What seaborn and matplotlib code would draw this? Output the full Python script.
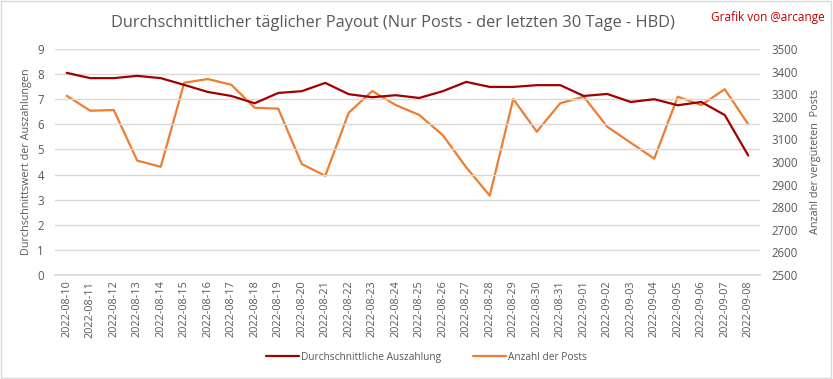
import matplotlib
matplotlib.use("Agg")
import matplotlib.pyplot as plt
import seaborn as sns
import pandas as pd
from matplotlib.patches import Rectangle

# data
dates = ["2022-08-10", "2022-08-11", "2022-08-12", "2022-08-13", "2022-08-14",
         "2022-08-15", "2022-08-16", "2022-08-17", "2022-08-18", "2022-08-19",
         "2022-08-20", "2022-08-21", "2022-08-22", "2022-08-23", "2022-08-24",
         "2022-08-25", "2022-08-26", "2022-08-27", "2022-08-28", "2022-08-29",
         "2022-08-30", "2022-08-31", "2022-09-01", "2022-09-02", "2022-09-03",
         "2022-09-04", "2022-09-05", "2022-09-06", "2022-09-07", "2022-09-08"]
avg_payout = [8.05, 7.84, 7.84, 7.93, 7.84, 7.57, 7.29, 7.13, 6.84, 7.25,
              7.32, 7.65, 7.20, 7.08, 7.16, 7.05, 7.32, 7.69, 7.49, 7.49,
              7.56, 7.56, 7.13, 7.21, 6.89, 7.00, 6.76, 6.89, 6.37, 4.76]
post_count = [3293, 3227, 3230, 3006, 2979, 3351, 3367, 3342, 3240, 3236,
              2991, 2939, 3218, 3314, 3252, 3208, 3119, 2976, 2851, 3279,
              3134, 3260, 3289, 3156, 3085, 3015, 3289, 3252, 3322, 3167]

df = pd.DataFrame({"idx": range(len(dates)), "date": dates,
                   "payout": avg_payout, "posts": post_count})

sns.set_theme(style="white")
plt.rcParams['font.family'] = ['Open Sans', 'DejaVu Sans']
grey = "#595959"

fig = plt.figure(figsize=(8.33, 3.79), dpi=100)
ax = fig.add_axes([55 / 833, 1 - 275 / 379, 705 / 833, 226 / 379])
ax2 = ax.twinx()

sns.lineplot(data=df, x="idx", y="payout", ax=ax, color="#A00000", linewidth=1.6,
             label="Durchschnittliche Auszahlung", legend=False)
sns.lineplot(data=df, x="idx", y="posts", ax=ax2, color="#ED7D31", linewidth=1.6,
             label="Anzahl der Posts", legend=False)

ax.set_xlim(-0.5, len(dates) - 0.5)
ax.set_ylim(0, 9)
ax.set_yticks(range(0, 10))
ax2.set_ylim(2500, 3500)
ax2.set_yticks(range(2500, 3501, 100))
ax.yaxis.grid(True, color="#D9D9D9", linewidth=1)
ax.set_axisbelow(True)
ax.set_zorder(ax2.get_zorder() + 1)
ax.patch.set_visible(False)

ax.set_xticks(df["idx"])
ax.set_xticklabels(dates, rotation=90, fontsize=7.8, color=grey)
ax.tick_params(axis="y", labelsize=8.3, labelcolor=grey, length=0, pad=8)
ax2.tick_params(axis="y", labelsize=8.3, labelcolor=grey, length=0, pad=8)
ax.tick_params(axis="x", length=0, pad=4)

for a in (ax, ax2):
    for s in a.spines.values():
        s.set_visible(False)
ax.spines["bottom"].set_visible(True)
ax.spines["bottom"].set_color("#D9D9D9")

ax.set_xlabel("")
ax.set_ylabel("Durchschnittswert der Auszahlungen", fontsize=7.8, color=grey, labelpad=4)
ax2.set_ylabel("Anzahl der vergüteten  Posts", fontsize=7.8, color=grey, labelpad=9)

fig.text(0.472, 0.94, "Durchschnittlicher täglicher Payout (Nur Posts - der letzten 30 Tage - HBD)",
         ha="center", va="center", fontsize=11.8, color=grey)
fig.text(0.99, 0.955, "Grafik von @arcange", ha="right", va="center",
         fontsize=8.5, color="#C00000")

h1, l1 = ax.get_legend_handles_labels()
h2, l2 = ax2.get_legend_handles_labels()
fig.legend(h1 + h2, l1 + l2, loc="center", bbox_to_anchor=(0.512, 0.058), ncol=2,
           frameon=False, fontsize=7.3, labelcolor=grey, handlelength=3.2,
           columnspacing=3.2, handletextpad=0.2)

fig.patches.append(Rectangle((0.001, 0.002), 0.997, 0.995, transform=fig.transFigure,
                             fill=False, edgecolor="#D9D9D9", linewidth=1))

fig.savefig("out.png", dpi=100)
